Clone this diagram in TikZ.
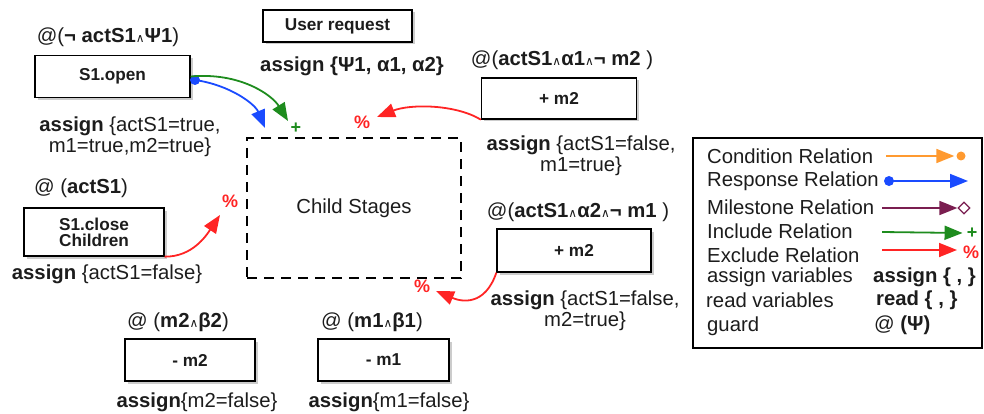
\documentclass[tikz,border=0pt]{standalone}
\usepackage{fontspec}
\setmainfont{Liberation Sans}
\newfontfamily\dejavu{DejaVu Sans}
\usetikzlibrary{arrows.meta,shadows,shapes.geometric}
\definecolor{txt}{HTML}{1C1C1C}
\definecolor{incg}{HTML}{1E8C1E}
\definecolor{resb}{HTML}{1A4BFF}
\definecolor{excr}{HTML}{FF2424}
\definecolor{cono}{HTML}{FF9A30}
\definecolor{milp}{HTML}{7A1E50}
\newcommand\mainsz{\fontsize{20.3}{21}\selectfont}
\newcommand\boxsz{\fontsize{17.2}{18}\selectfont\bfseries}
\newcommand\wdg{{\dejavu\fontsize{12}{12}\selectfont ∧}}
\tikzset{
  box/.style={draw=black, line width=1.3pt, fill=white, text=txt,
    drop shadow={shadow xshift=2.5pt, shadow yshift=-2.5pt, opacity=0.4},
    font=\boxsz, inner sep=0pt, align=center},
  lbl/.style={font=\mainsz, text=txt, inner sep=0pt},
  rel/.style={line width=1.8pt, -{Triangle[length=18pt,width=14pt]}},
  relmark/.style={inner sep=0pt, font=\bfseries\fontsize{18}{18}\selectfont}
}
\begin{document}
\begin{tikzpicture}[x=1pt,y=-1pt]
\useasboundingbox (0,0) rectangle (984,414);
% boxes
\node[box, minimum width=155pt, minimum height=42pt] (open) at (112.5,76.5) {S1.open};
\node[box, minimum width=149pt, minimum height=32pt] (user) at (337.5,26) {User request};
\node[box, minimum width=155pt, minimum height=41pt] (m2a) at (559,98.5) {+ m2};
\node[draw=black, line width=1.3pt, dash pattern=on 10pt off 7pt, minimum width=214pt, minimum height=140pt, inner sep=0pt, font=\mainsz, text=txt] (child) at (354,208) {Child Stages};
\node[box, minimum width=140pt, minimum height=48pt] (close) at (94,232) {S1.close\\[-2pt]Children};
\node[box, minimum width=154pt, minimum height=43pt] (m2b) at (574,250.5) {+ m2};
\node[box, minimum width=130pt, minimum height=42pt] (mm2) at (190,360) {- m2};
\node[box, minimum width=131pt, minimum height=42pt] (mm1) at (383.5,360) {- m1};

% guards and assignments
\node[lbl] (g1) at (108,37) {@(\textbf{¬ actS1}\wdg\textbf{Ψ1})};
\node[lbl, align=center] (a1) at (130,137) {\textbf{assign} \{actS1=true,\\m1=true,m2=true\}};
\node[lbl] (au) at (352,66) {\textbf{assign \{Ψ1, α1, α2\}}};
\node[lbl] (g2) at (562,60) {@(\textbf{actS1}\wdg\textbf{α1}\wdg\textbf{¬ m2} )};
\node[lbl, align=center] (a2) at (581,156) {\textbf{assign} \{actS1=false,\\m1=true\}};
\node[lbl] (g3) at (81,188) {@ (\textbf{actS1})};
\node[lbl] (a3) at (107,274) {\textbf{assign} \{actS1=false\}};
\node[lbl] (g4) at (578,212) {@(\textbf{actS1}\wdg\textbf{α2}\wdg\textbf{¬ m1} )};
\node[lbl, align=center] (a4) at (585,311) {\textbf{assign} \{actS1=false,\\m2=true\}};
\node[lbl] (g5) at (178,322) {@ (\textbf{m2}\wdg\textbf{β2})};
\node[lbl] (a5) at (197,402) {\textbf{assign}\{m2=false\}};
\node[lbl] (g6) at (372,322) {@ (\textbf{m1}\wdg\textbf{β1})};
\node[lbl] (a6) at (389,402) {\textbf{assign}\{m1=false\}};

% relation markers
\node[relmark, text=incg] (plus1) at (296,128) {+};
\node[relmark, text=excr] (pc1) at (362,122) {\%};
\node[relmark, text=excr] (pc2) at (230,201) {\%};
\node[relmark, text=excr] (pc3) at (422,286) {\%};
\coordinate (incE) at (288,121);
\coordinate (resE) at (265,128);
\coordinate (ex1E) at (377,117);
\coordinate (ex2E) at (220,215);
\coordinate (ex3E) at (436,291);
\node[circle, fill=resb, minimum size=10pt, inner sep=0pt] (rdot) at (195,80) {};

% connectors
\draw[rel, incg] (open.east) .. controls (240,72) and (272,95) .. (incE);
\draw[rel, resb] (rdot.center) .. controls (230,85) and (255,104) .. (resE);
\draw[rel, excr] (m2a.south west) .. controls (455,104) and (410,104) .. (ex1E);
\draw[rel, excr] (close.south east) .. controls (192,257) and (206,236) .. (ex2E);
\draw[rel, excr] (m2b.south west) .. controls (485,306) and (462,302) .. (ex3E);

% legend
\node[draw=black, line width=1.2pt, minimum width=289pt, minimum height=210pt, inner sep=0pt] (legend) at (837.5,243) {};
\node[lbl, anchor=west] (l1) at (707,156) {Condition Relation};
\node[lbl, anchor=west] (l2) at (707,181) {Response Relation};
\node[lbl, anchor=west] (l3) at (707,207) {Milestone Relation};
\node[lbl, anchor=west] (l4) at (707,231) {Include Relation};
\node[lbl, anchor=west] (l5) at (707,255) {Exclude Relation};
\node[lbl, anchor=west] (l6) at (707,277) {assign variables};
\node[lbl, anchor=west] (l7) at (706,300) {read variables};
\node[lbl, anchor=west] (l8) at (707,326) {guard};
\node[lbl, anchor=west] (s6) at (873,277) {\textbf{assign \{ , \}}};
\node[lbl, anchor=west] (s7) at (876,300) {\textbf{read \{ , \}}};
\node[lbl, anchor=west] (s8) at (874,325) {@ \textbf{(Ψ)}};

\coordinate (c1s) at (886,156);
\node[circle, fill=cono, minimum size=9pt, inner sep=0pt] (cdot) at (961,156) {};
\draw[rel, cono] (c1s) -- ([xshift=-2pt]cdot.west);
\node[circle, fill=resb, minimum size=10pt, inner sep=0pt] (rdot2) at (889,181) {};
\coordinate (r2e) at (968,181);
\draw[rel, resb] (rdot2.center) -- (r2e);
\coordinate (m3s) at (882,208);
\node[diamond, draw=milp, line width=1.3pt, minimum size=12pt, inner sep=0pt] (mdia) at (964,208) {};
\draw[rel, milp] (m3s) -- (mdia.west);
\coordinate (i4s) at (882,232);
\node[relmark, text=incg] (iplus) at (972,233) {+};
\draw[rel, incg] (i4s) -- ([xshift=-4pt]iplus.west);
\coordinate (e5s) at (882,250);
\node[relmark, text=excr] (epc) at (971,252) {\%};
\coordinate (e5e) at (957,250);
\draw[rel, excr] (e5s) -- (e5e);
\end{tikzpicture}
\end{document}
